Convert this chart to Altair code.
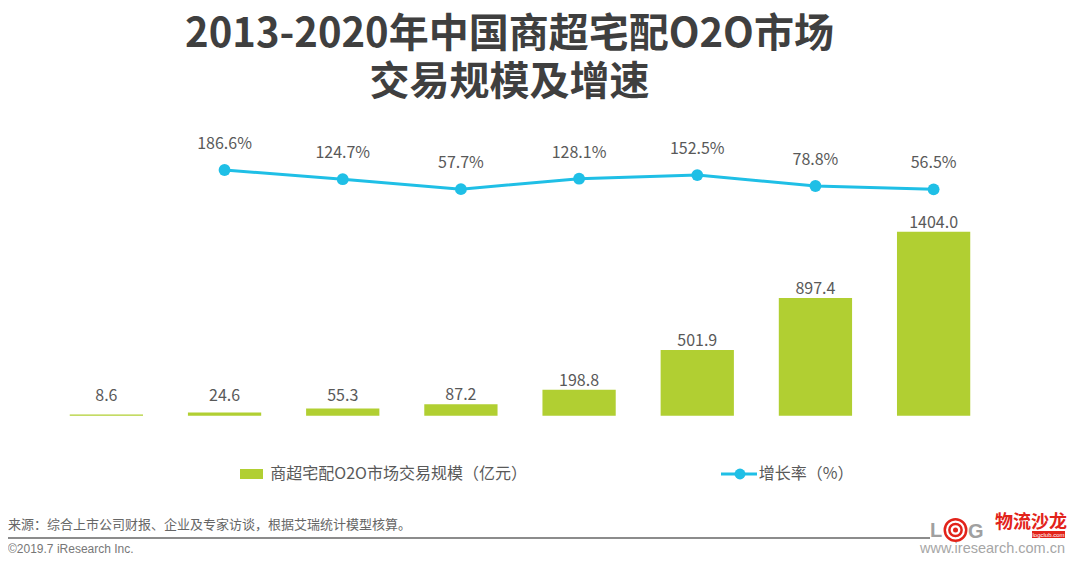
import altair as alt
import pandas as pd

years = ["2013", "2014", "2015", "2016", "2017", "2018", "2019e", "2020e"]
market = [8.6, 24.6, 55.3, 87.2, 198.8, 501.9, 897.4, 1404.0]
growth = [None, 186.6, 124.7, 57.7, 128.1, 152.5, 78.8, 56.5]

title_lines = ["2013-2020年中国商超宅配O2O市场", "交易规模及增速"]
legend_bar = "商超宅配O2O市场交易规模（亿元）"
legend_line = "增长率（%）"
source = "来源：综合上市公司财报、企业及专家访谈，根据艾瑞统计模型核算。"
copyright_txt = "©2019.7 iResearch Inc."
site = "www.iresearch.com.cn"

CJK = "Noto Sans CJK SC"
GREEN = "#B1CF32"
BLUE = "#1FBFE6"
GRAY = "#595959"

df = pd.DataFrame({"year": years, "market": market, "growth": growth})
one = pd.DataFrame({"a": [0]})

xenc = alt.X("year:N", sort=years,
             scale=alt.Scale(paddingInner=0.38, paddingOuter=0.19),
             axis=alt.Axis(title=None, labelAngle=0, ticks=False,
                           domainColor="#A6A6A6", domainWidth=1.5,
                           labelFontSize=16, labelColor=GRAY, labelFont=CJK,
                           labelPadding=12))
xnoaxis = alt.X("year:N", sort=years, axis=None)

ybar = alt.Scale(domain=[0, 2180])
yline = alt.Scale(domain=[-1470, 456.5], zero=False, nice=False)

bars = alt.Chart(df).mark_bar(color=GREEN).encode(
    x=xenc,
    y=alt.Y("market:Q", scale=ybar, axis=None),
)
bar_labels = alt.Chart(df).transform_calculate(
    pos="max(datum.market, 80)",
    lab="format(datum.market, '.1f')",
).mark_text(fontSize=16, font=CJK, color=GRAY, baseline="alphabetic", dy=-4).encode(
    x=xnoaxis,
    y=alt.Y("pos:Q", scale=ybar, axis=None),
    text="lab:N",
)

gdf = alt.Chart(df).transform_filter("isValid(datum.growth)")
line = gdf.mark_line(color=BLUE, strokeWidth=3).encode(
    x=xnoaxis, y=alt.Y("growth:Q", scale=yline, axis=None))
pts = gdf.mark_point(color=BLUE, filled=True, size=140, opacity=1).encode(
    x=xnoaxis, y=alt.Y("growth:Q", scale=yline, axis=None))
line_labels = gdf.transform_calculate(
    lab="format(datum.growth, '.1f') + '%'"
).mark_text(fontSize=16, font=CJK, color=GRAY, baseline="middle", dy=-26).encode(
    x=xnoaxis, y=alt.Y("growth:Q", scale=yline, axis=None), text="lab:N")


def txt(text, x, y, size, color, weight="normal", align="left", font=CJK, **kw):
    return alt.Chart(one).mark_text(
        text=text, fontSize=size, color=color, fontWeight=weight, align=align,
        baseline="middle", font=font, **kw).encode(x=alt.value(x), y=alt.value(y))


title = txt(title_lines, 462.2, -95, 40, "#3F3F3F", "bold", "center", lineHeight=48)

leg_rect = alt.Chart(one).mark_rect(color=GREEN).encode(
    x=alt.value(192.7), x2=alt.value(215.7), y=alt.value(339), y2=alt.value(349))
leg_t1 = txt(legend_bar, 223, 344, 16, GRAY)
leg_rule = alt.Chart(one).mark_rule(color=BLUE, strokeWidth=3).encode(
    x=alt.value(673.7), x2=alt.value(709.7), y=alt.value(344))
leg_pt = alt.Chart(one).mark_point(color=BLUE, filled=True, size=120, opacity=1).encode(
    x=alt.value(692.7), y=alt.value(344))
leg_t2 = txt(legend_line, 711.5, 344, 16, GRAY)

src = txt(source, -39.3, 395, 13, "#666666")
sep = alt.Chart(one).mark_rule(color="#8C8C8C", strokeWidth=2).encode(
    x=alt.value(-39.3), x2=alt.value(882.7), y=alt.value(408))
copy_t = txt(copyright_txt, -39.3, 419, 12, "#777777", font="Liberation Sans")
site_t = txt(site, 1017.7, 419, 14.5, "#A6A6A6", align="right", font="Liberation Sans")

logo_L = txt("L", 882.7, 401, 20, "#A0A0A0", "bold", font="Liberation Sans")
logo_G = txt("G", 920.7, 402, 20, "#A0A0A0", "bold", font="Liberation Sans")
ring1 = alt.Chart(one).mark_point(shape="circle", filled=False, color="#E2231A",
                                  strokeWidth=2.5, size=460, opacity=1).encode(
    x=alt.value(908.2), y=alt.value(400))
ring2 = alt.Chart(one).mark_point(shape="circle", filled=False, color="#E2231A",
                                  strokeWidth=2.5, size=150, opacity=1).encode(
    x=alt.value(908.2), y=alt.value(400))
dot = alt.Chart(one).mark_point(shape="circle", filled=True, color="#E2231A",
                                size=25, opacity=1).encode(
    x=alt.value(908.2), y=alt.value(400))
logo_cn = txt("物流沙龙", 947.7, 393, 18, "#E2231A", "bold")
logo_box = alt.Chart(one).mark_rect(color="#E2231A").encode(
    x=alt.value(984.7), x2=alt.value(1017.7), y=alt.value(401), y2=alt.value(408))
logo_box_t = txt("logclub.com", 1001.2, 404.5, 6, "white", align="center",
                 font="Liberation Sans")

chart = alt.layer(
    bars, bar_labels, line, pts, line_labels,
    title, leg_rect, leg_t1, leg_rule, leg_pt, leg_t2,
    src, sep, copy_t, site_t,
    logo_L, logo_G, ring1, ring2, dot, logo_cn, logo_box, logo_box_t,
).resolve_scale(y="independent").properties(
    width=945.4, height=285.7,
    autosize=alt.AutoSizeParams(type="none"),
    padding={"left": 39.3, "top": 122, "right": 79.3, "bottom": 140.3},
    background="white",
).configure_view(stroke=None)

chart.save("out.html", embed_options={"renderer": "svg", "actions": False})
